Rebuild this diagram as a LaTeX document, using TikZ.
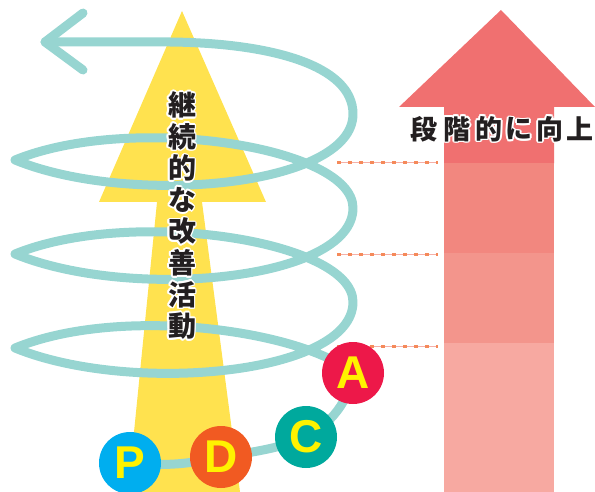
\documentclass[tikz,border=0pt]{standalone}
\usepackage{fontspec}
\setmainfont{Liberation Sans}
\newfontfamily\jpfont{Noto Sans CJK JP}
\definecolor{yel}{HTML}{FFE24F}
\definecolor{tealsp}{HTML}{97D5D1}
\definecolor{ra}{HTML}{F07070}
\definecolor{rb}{HTML}{F2877F}
\definecolor{rc}{HTML}{F3958C}
\definecolor{rd}{HTML}{F7A9A1}
\definecolor{cP}{HTML}{00AEEF}
\definecolor{cD}{HTML}{F15A22}
\definecolor{cC}{HTML}{00A99D}
\definecolor{cA}{HTML}{ED1849}
\definecolor{ltr}{HTML}{FFF200}
\definecolor{dashor}{HTML}{F58A5A}
\definecolor{dashpk}{HTML}{F6B0A8}
\definecolor{txtk}{HTML}{231F20}
\newcommand{\halochar}[5]{% name, x, y, size, text
  \foreach \ang in {0,30,...,330}{\path (#2,#3) ++(\ang:1.7) node[jpchar,text=white,font=\jpfont\bfseries\fontsize{#4}{#4}\selectfont] (#1h\ang) {#5};}
  \node[jpchar,font=\jpfont\bfseries\fontsize{#4}{#4}\selectfont] (#1) at (#2,#3) {#5};}
\tikzset{
  spiral/.style={draw=tealsp,line width=9,line cap=round,line join=round},
  circ/.style={circle,minimum size=62,inner sep=0,text=ltr,font=\fontsize{46}{46}\selectfont\bfseries},
  jpchar/.style={inner sep=0,text=txtk},
  dashguide/.style={draw=dashpk,line width=1},
  dashmark/.style={draw=dashor,line width=3,dash pattern=on 4 off 7}
}
\begin{document}
\begin{tikzpicture}[x=1pt,y=-1pt]
\useasboundingbox (0,0) rectangle (595,492);
% yellow arrow
\fill[yel] (182,11) -- (266,202) -- (202,202) -- (240,492) -- (128,492) -- (157,202) -- (99,202) -- cycle;
% red arrow bands
\fill[ra] (501,10) -- (595,107) -- (554,107) -- (554,163.5) -- (444,163.5) -- (444,107) -- (399,107) -- cycle;
\fill[rb] (444,163) rectangle (554,253.5);
\fill[rc] (444,253) rectangle (554,343.5);
\fill[rd] (444,343) rectangle (554,492);
% dashed guides
\foreach \yy/\nm in {163/a,254/b,346/c}{
  \coordinate (g\nm1) at (337,\yy); \coordinate (g\nm2) at (438,\yy);
  \draw[dashguide] (g\nm1) -- (g\nm2);
  \draw[dashmark] (g\nm1) -- (g\nm2);
}
% spiral
\coordinate (pP) at (130,463);
\coordinate (pD) at (221,457);
\coordinate (pC) at (306,437);
\coordinate (pA) at (353,373);
\coordinate (T3) at (15,348);
\coordinate (R3) at (353,302);
\coordinate (T2) at (15,254);
\coordinate (R2) at (353,208);
\coordinate (T1) at (15,160);
\coordinate (R1) at (353,114);
\coordinate (E) at (45,42);
\coordinate (B1) at (83,13);
\coordinate (B2) at (83,70);
\draw[spiral] (pP) .. controls (175,467) and (195,462) .. (pD)
  .. controls (255,452) and (285,447) .. (pC)
  .. controls (330,425) and (350,400) .. (pA)
  .. controls (300,330) and (120,305) .. (T3)
  .. controls (130,395) and (353,375) .. (R3)
  .. controls (353,240) and (130,207) .. (T2)
  .. controls (130,301) and (353,281) .. (R2)
  .. controls (353,146) and (130,113) .. (T1)
  .. controls (130,207) and (353,187) .. (R1)
  .. controls (353,65) and (270,43) .. (170,42) -- (E);
\draw[spiral] (B1) -- (E) -- (B2);
% PDCA circles
\node[circ,fill=cP] (P) at (pP) {P};
\node[circ,fill=cD] (D) at (pD) {D};
\node[circ,fill=cC] (C) at (pC) {C};
\node[circ,fill=cA] (A) at (pA) {A};
% vertical text
\halochar{v1}{182}{105}{28}{継}
\halochar{v2}{182}{136.6}{28}{続}
\halochar{v3}{182}{168.2}{28}{的}
\halochar{v4}{182}{199.8}{28}{な}
\halochar{v5}{182}{231.4}{28}{改}
\halochar{v6}{182}{263}{28}{善}
\halochar{v7}{182}{294.6}{28}{活}
\halochar{v8}{182}{326.2}{28}{動}
% horizontal text
\halochar{h1}{424}{129}{27}{段}
\halochar{h2}{457}{129}{27}{階}
\halochar{h3}{489}{129}{27}{的}
\halochar{h4}{519}{129}{27}{に}
\halochar{h5}{550}{129}{27}{向}
\halochar{h6}{579.5}{129}{27}{上}
\end{tikzpicture}
\end{document}
